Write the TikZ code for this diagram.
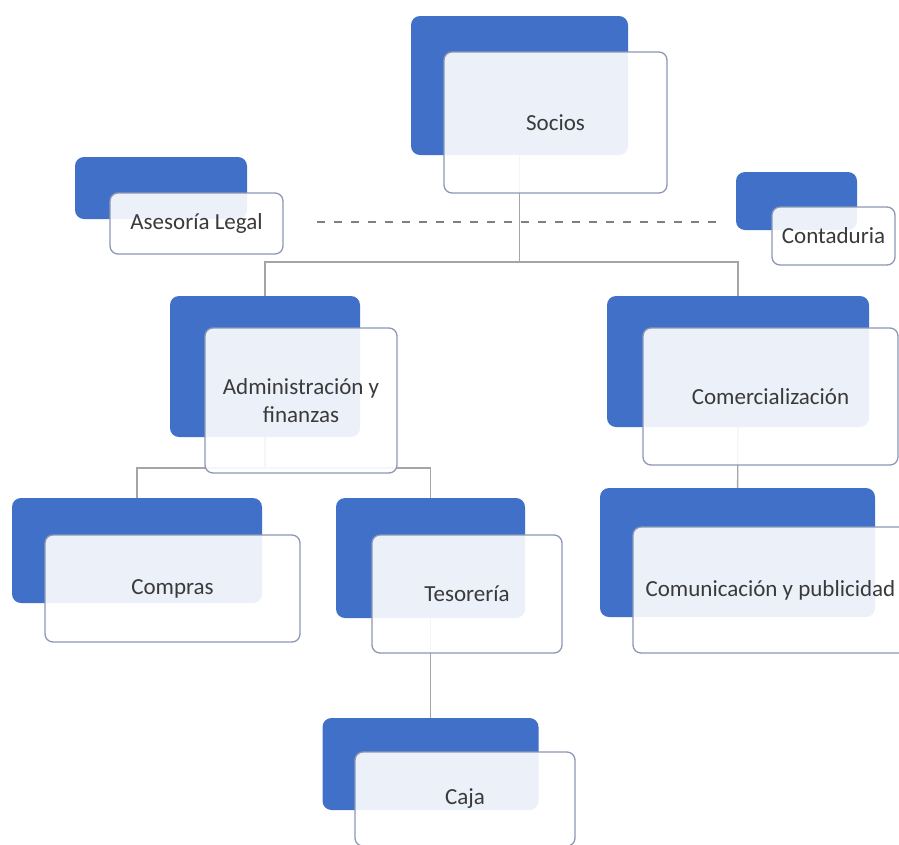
\documentclass[tikz,border=0pt]{standalone}
\usepackage{fontspec}
\setmainfont{Carlito}
\usepackage{tikz}
\usetikzlibrary{backgrounds}

\definecolor{boxblue}{HTML}{4170C8}
\definecolor{boxline}{HTML}{8D97B5}
\definecolor{connline}{HTML}{A5A5A5}
\definecolor{labeltext}{HTML}{3A3A3A}

\tikzset{
  bbox/.style={fill=boxblue, rounded corners=9pt, inner sep=0pt},
  wbox/.style={draw=boxline, line width=1.3pt, fill=white, fill opacity=0.9,
    text opacity=1, rounded corners=8pt, inner sep=0pt, text=labeltext,
    font=\fontsize{23}{28}\selectfont, align=center},
  conn/.style={draw=connline, line width=1.4pt},
  dline/.style={draw=gray, line width=1.4pt, dash pattern=on 8pt off 9pt},
}

\begin{document}
\begin{tikzpicture}[x=1pt, y=-1pt]
  \useasboundingbox (0,0) rectangle (899,844);
  \clip (0,0) rectangle (899,844);

  % blue back boxes
  \node (socB) at (519.5,85.5) [bbox, minimum width=217pt, minimum height=139pt] {};
  \node (aseB) at (161,188) [bbox, minimum width=172pt, minimum height=62pt] {};
  \node (conB) at (796.5,201) [bbox, minimum width=121pt, minimum height=58pt] {};
  \node (admB) at (265,366.5) [bbox, minimum width=190pt, minimum height=141pt] {};
  \node (comB) at (738,361.5) [bbox, minimum width=262pt, minimum height=131pt] {};
  \node (cprB) at (137,550.5) [bbox, minimum width=250pt, minimum height=105pt] {};
  \node (tesB) at (430.5,558) [bbox, minimum width=189pt, minimum height=120pt] {};
  \node (cmuB) at (737.5,552.5) [bbox, minimum width=275pt, minimum height=129pt] {};
  \node (cajB) at (430.5,764) [bbox, minimum width=216pt, minimum height=92pt] {};

  % front boxes
  \node (soc) at (555.5,122.5) [wbox, minimum width=223pt, minimum height=141pt] {Socios};
  \node (ase) at (196.5,223.5) [wbox, minimum width=173pt, minimum height=61pt] {Asesoría Legal};
  \node (con) at (833.5,236) [wbox, minimum width=123pt, minimum height=58pt] {Contaduria};
  \node (adm) at (301,400.5) [wbox, minimum width=192pt, minimum height=145pt] {Administración y\\finanzas};
  \node (com) at (770.5,396.5) [wbox, minimum width=255pt, minimum height=137pt] {Comercialización};
  \node (cpr) at (172.5,588.5) [wbox, minimum width=255pt, minimum height=107pt] {Compras};
  \node (tes) at (467,594) [wbox, minimum width=190pt, minimum height=118pt] {Tesorería};
  \node (cmu) at (770.5,590) [wbox, minimum width=275pt, minimum height=126pt] {Comunicación y publicidad};
  \node (caj) at (465,799) [wbox, minimum width=220pt, minimum height=94pt] {Caja};

  \coordinate (j1) at (521,262);
  \coordinate (j2) at (265,468);
  \coordinate (d1) at (317,222);
  \coordinate (d2) at (720,222);

  % connectors behind the boxes
  \begin{pgfonlayer}{background}
    \draw [conn] (socB.center) -- (socB.center |- j1);
    \draw [conn] (admB.center) |- (j1) -| (comB.center);
    \draw [conn] (admB.center) -- (j2);
    \draw [conn] (cprB.center) |- (j2) -| (tesB.center);
    \draw [conn] (comB.center) -- (cmuB.center);
    \draw [conn] (tesB.center) -- (cajB.center);
  \end{pgfonlayer}
  \draw [dline] (d1) -- (d2);
\end{tikzpicture}
\end{document}
